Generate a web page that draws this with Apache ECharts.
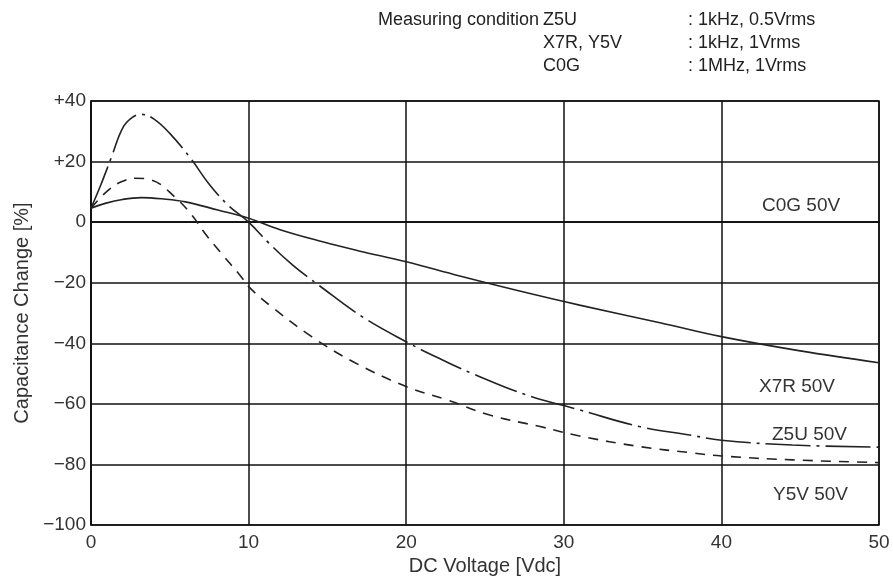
<!DOCTYPE html>
<html>
<head>
<meta charset="utf-8">
<script src="https://cdn.jsdelivr.net/npm/echarts@6/dist/echarts.min.js"></script>
<style>
html, body { margin: 0; padding: 0; background: #fff; }
#chart { width: 893px; height: 579px; }
</style>
</head>
<body>
<div id="chart"></div>
<script>
// 各曲线数据 [电压, 容量变化%]
var xTicks = [0, 10, 20, 30, 40, 50];
var yTicks = [-100, -80, -60, -40, -20, 0, 20, 40];
var c0g = [[0, 0], [50, 0]];
var x7r = [[0, 4.6], [0.9, 6.2], [2, 7.5], [3.2, 8.1], [4.5, 7.7], [6, 6.7], [8.05, 4], [10, 1.3], [12, -2.5],
    [14.7, -6.5], [17, -9.5], [20, -13.1], [23.4, -17.8], [27, -22.5], [31, -27.4], [36.1, -33.2], [40, -37.8],
    [45, -42.5], [50, -46.4]];
var z5u = [[0, 4.6], [0.6, 12], [1.3, 21.5], [2, 31], [2.6, 34.5], [3.2, 35.6], [4, 34], [5, 29.3], [6.4, 20.5],
    [7.5, 12.5], [8.7, 5.6], [10, 0], [11.3, -7], [12.8, -14.2], [14.5, -21], [17.2, -31.2], [20, -39.5],
    [22.3, -45.5], [24.2, -50], [27.6, -57], [31, -62], [34.8, -67.5], [38, -70.3], [40, -72], [44.5, -73.6],
    [50, -74.3]];
var y5v = [[0, 4.6], [1.1, 10.6], [2, 13.5], [2.8, 14.5], [3.85, 13.9], [5.3, 8.4], [6.4, 2.3], [7.2, -3.5],
    [8.3, -10.5], [9.45, -17.5], [10.1, -21.8], [11.6, -28.5], [14, -37.8], [16.6, -46], [20, -54.3],
    [22.6, -58.7], [25.3, -63.7], [28.5, -67.5], [31, -70.6], [34.8, -74.1], [38, -76.1], [40, -77.2],
    [44.5, -78.5], [50, -79.4]];

var font = '"Liberation Sans", Arial, sans-serif';
var txtColor = '#333';

function yFmt(v) {
    if (v > 0) return '+' + v;
    if (v < 0) return '\u2212' + (-v);
    return '0';
}

var myChart = echarts.init(document.getElementById('chart'));
var option = {
    backgroundColor: '#fff',
    animation: false,
    grid: {
        left: 91, right: 14, top: 101, bottom: 54,
        outerBoundsMode: 'none',
        show: true, borderColor: '#111', borderWidth: 1.5
    },
    xAxis: {
        type: 'value',
        min: xTicks[0], max: xTicks[xTicks.length - 1], interval: 10,
        name: 'DC Voltage [Vdc]',
        nameLocation: 'middle',
        nameGap: 30,
        nameTextStyle: { fontFamily: font, fontSize: 20, color: txtColor },
        axisLine: { lineStyle: { color: '#111', width: 1.5 } },
        axisTick: { show: false },
        axisLabel: { fontFamily: font, fontSize: 19, color: txtColor, margin: 8 },
        splitLine: { show: true, lineStyle: { color: '#111', width: 1.5 } }
    },
    yAxis: {
        type: 'value',
        min: yTicks[0], max: yTicks[yTicks.length - 1], interval: 20,
        name: 'Capacitance Change [%]',
        nameLocation: 'middle',
        nameGap: 59,
        nameTextStyle: { fontFamily: font, fontSize: 20, color: txtColor },
        axisLine: { show: true, lineStyle: { color: '#111', width: 1.5 } },
        axisTick: { show: false },
        axisLabel: { fontFamily: font, fontSize: 19, color: txtColor, margin: 5, formatter: yFmt },
        splitLine: { show: true, lineStyle: { color: '#111', width: 1.5 } }
    },
    series: [{
        name: 'C0G 50V', type: 'line', data: c0g, symbol: 'none',
        lineStyle: { color: '#111', width: 1.5 }
    }, {
        name: 'X7R 50V', type: 'line', data: x7r, symbol: 'none', smooth: 0.4,
        lineStyle: { color: '#222', width: 1.6 }
    }, {
        name: 'Z5U 50V', type: 'line', data: z5u, symbol: 'none', smooth: 0.4,
        lineStyle: { color: '#222', width: 1.6, type: [45, 6, 3, 6] }
    }, {
        name: 'Y5V 50V', type: 'line', data: y5v, symbol: 'none', smooth: 0.4,
        lineStyle: { color: '#222', width: 1.6, type: [10, 8] }
    }],
    graphic: [
        { type: 'text', left: 378, top: 11, style: { text: 'Measuring condition', font: '18px ' + font, fill: '#222' } },
        { type: 'text', left: 543, top: 11, style: { text: 'Z5U', font: '18px ' + font, fill: '#222' } },
        { type: 'text', left: 543, top: 34, style: { text: 'X7R, Y5V', font: '18px ' + font, fill: '#222' } },
        { type: 'text', left: 543, top: 57, style: { text: 'C0G', font: '18px ' + font, fill: '#222' } },
        { type: 'text', left: 688, top: 11, style: { text: ': 1kHz, 0.5Vrms', font: '18px ' + font, fill: '#222' } },
        { type: 'text', left: 688, top: 34, style: { text: ': 1kHz, 1Vrms', font: '18px ' + font, fill: '#222' } },
        { type: 'text', left: 688, top: 57, style: { text: ': 1MHz, 1Vrms', font: '18px ' + font, fill: '#222' } },
        { type: 'text', left: 762, top: 196, style: { text: 'C0G 50V', font: '19px ' + font, fill: txtColor } },
        { type: 'text', left: 759, top: 377, style: { text: 'X7R 50V', font: '19px ' + font, fill: txtColor } },
        { type: 'text', left: 772, top: 425, style: { text: 'Z5U 50V', font: '19px ' + font, fill: txtColor } },
        { type: 'text', left: 773, top: 485, style: { text: 'Y5V 50V', font: '19px ' + font, fill: txtColor } }
    ]
};
myChart.setOption(option);
</script>
</body>
</html>
